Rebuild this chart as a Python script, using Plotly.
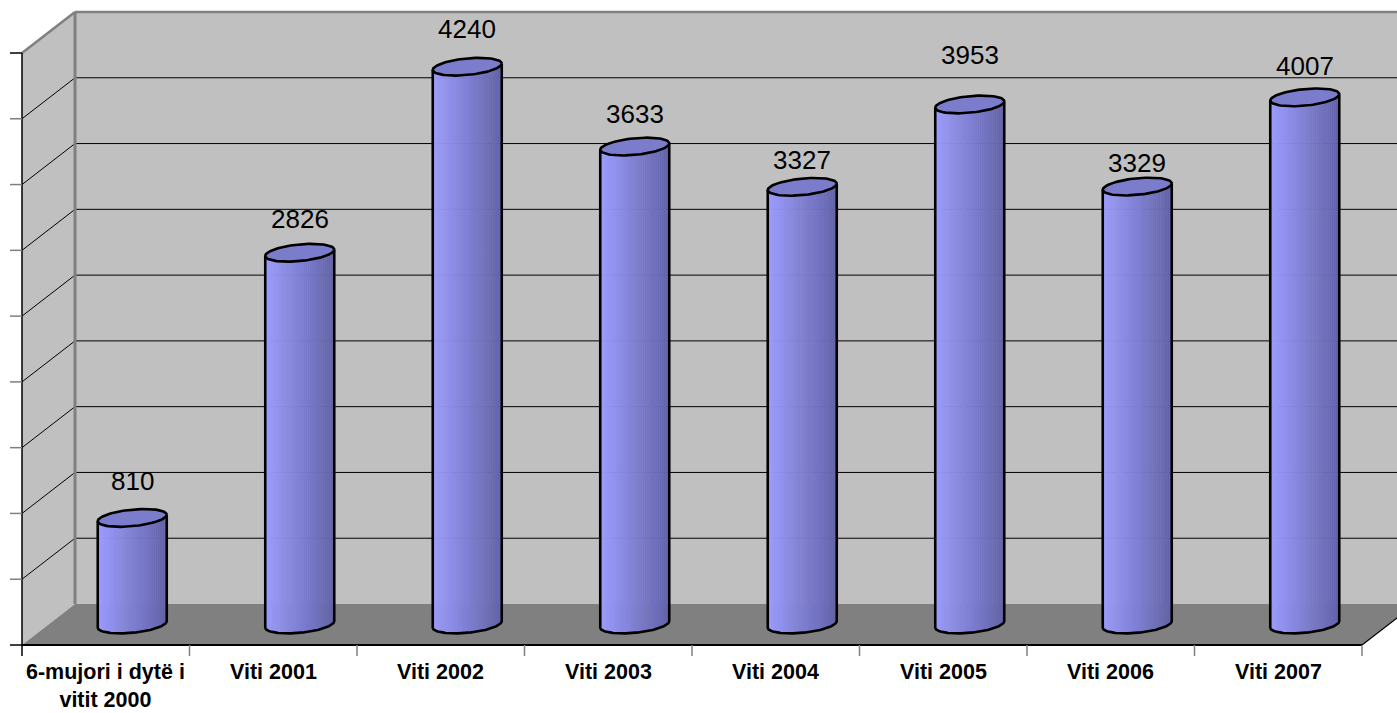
import numpy as np
import plotly.graph_objects as go

# ---- data -------------------------------------------------------------
categories = ["6-mujori i dytë i<br>vitit 2000", "Viti 2001", "Viti 2002", "Viti 2003",
              "Viti 2004", "Viti 2005", "Viti 2006", "Viti 2007"]
values = [810, 2826, 4240, 3633, 3327, 3953, 3329, 4007]
axis_max = 4500
axis_step = 500

# ---- styling / geometry (pixels) ---------------------------------------
label_lift = [37, 34, 38, 33, 27, 49, 24, 31]   # value label height above cylinder top
W, H = 1397, 713
PX_PER_CAT = 167.5
PX_PER_UNIT = 592 / axis_max
X0_PX = 132.25      # axis of first cylinder (mid-depth plane)
Y0_PX = 624.5       # value 0 on the mid-depth plane

WALL = "#C0C0C0"
FLOOR = "#808080"
EDGE = "#808080"
TOP_FILL = "#7C7CCC"
BODY_LEFT = np.array([156, 156, 255])
BODY_RIGHT = np.array([98, 98, 168])
FONT = "Arial, 'Liberation Sans', sans-serif"


def dx(p):
    return p / PX_PER_CAT


def dy(p):
    return p / PX_PER_UNIT


x_range = [-X0_PX / PX_PER_CAT, (W - X0_PX) / PX_PER_CAT]
y_range = [-(H - Y0_PX) / PX_PER_UNIT, Y0_PX / PX_PER_UNIT]

DX, DY = dx(26.5), dy(20.5)          # half depth of the plot box
A, B, T = dx(34.5), dy(8.3), dy(3.2)  # cylinder half width, ellipse half height, tilt
n = len(values)

x_front_left = -0.5 - DX
x_back_left = -0.5 + DX
x_front_right = n - 0.5 - DX
x_back_right = n - 0.5 + DX
ticks = list(range(0, axis_max + 1, axis_step))

shapes = []


def poly(pts, fill, line_color=None, width=0):
    path = "M " + " L ".join(f"{x},{y}" for x, y in pts) + " Z"
    shapes.append(dict(type="path", path=path, xref="x", yref="y", layer="below",
                       fillcolor=fill, line=dict(color=line_color or fill, width=width)))


def seg(x0, y0, x1, y1, color="black", width=1):
    shapes.append(dict(type="line", x0=x0, y0=y0, x1=x1, y1=y1, xref="x", yref="y",
                       layer="below", line=dict(color=color, width=width)))


# back wall, left wall, floor
poly([(x_back_left, DY), (x_back_right + 1, DY), (x_back_right + 1, axis_max + DY),
      (x_back_left, axis_max + DY)], WALL)
poly([(x_front_left, -DY), (x_front_left, axis_max - DY), (x_back_left, axis_max + DY),
      (x_back_left, DY)], WALL)
poly([(x_front_left, -DY), (x_front_right, -DY), (x_back_right, DY), (x_back_left, DY)], FLOOR)

# gridlines on both walls
for v in ticks[1:-1]:
    seg(x_back_left, v + DY, x_back_right + 1, v + DY, "black", 1)
    seg(x_front_left, v - DY, x_back_left, v + DY, "black", 1)

# wall edges
seg(x_back_left, DY, x_back_left, axis_max + DY, EDGE, 3)
seg(x_back_left, axis_max + DY, x_back_right + 1, axis_max + DY, EDGE, 2.5)
seg(x_front_left, axis_max - DY, x_back_left, axis_max + DY, EDGE, 2.5)

# floor front edges
seg(x_front_left, -DY, x_front_right, -DY, "black", 2)
seg(x_front_right, -DY, x_back_right, DY, "black", 1.2)

# value axis with ticks
seg(x_front_left, -DY - dy(11), x_front_left, axis_max - DY, "black", 1.5)
for v in ticks:
    seg(x_front_left - dx(12), v - DY, x_front_left, v - DY,
        "black" if v in (0, axis_max) else EDGE, 1.5)

# category ticks
for k in range(1, n + 1):
    seg(x_front_left + k, -DY, x_front_left + k, -DY - dy(11), EDGE, 1.5)

# ---- cylinders ----------------------------------------------------------
fig = go.Figure()


def front_curve(u):
    return -B * np.sqrt(np.clip(1 - u ** 2, 0, None)) + T * u


N_STRIPS = 36
edges = np.linspace(-1, 1, N_STRIPS + 1)
for j in range(N_STRIPS):
    us = np.linspace(edges[j], edges[j + 1], 5)
    f = (j + 0.5) / N_STRIPS
    c = BODY_LEFT + (BODY_RIGHT - BODY_LEFT) * f
    color = f"rgb({c[0]:.0f},{c[1]:.0f},{c[2]:.0f})"
    xs, ys = [], []
    for i, v in enumerate(values):
        xs += list(i + A * us) + list(i + A * us[::-1]) + [None]
        ys += list(front_curve(us)) + list(v + T * us[::-1]) + [None]
    fig.add_trace(go.Scatter(x=xs, y=ys, mode="lines", fill="toself", fillcolor=color,
                             line=dict(color=color, width=0.8), hoverinfo="skip"))

# outlines of the cylinder bodies
u_arc = np.linspace(-1, 1, 80)
xs, ys = [], []
for i, v in enumerate(values):
    xs += [i - A] + list(i + A * u_arc) + [i + A, None]
    ys += [v - T] + list(front_curve(u_arc)) + [v + T, None]
fig.add_trace(go.Scatter(x=xs, y=ys, mode="lines", line=dict(color="black", width=2.6),
                         hoverinfo="skip"))

# top caps
t = np.linspace(0, 2 * np.pi, 100)
xs, ys = [], []
for i, v in enumerate(values):
    xs += list(i + A * np.cos(t)) + [None]
    ys += list(v - B * np.sin(t) + T * np.cos(t)) + [None]
fig.add_trace(go.Scatter(x=xs, y=ys, mode="lines", fill="toself", fillcolor=TOP_FILL,
                         line=dict(color="black", width=2.6), hoverinfo="skip"))

# ---- labels -------------------------------------------------------------
annotations = []
for i, (v, lift) in enumerate(zip(values, label_lift)):
    annotations.append(dict(x=i, y=v, xref="x", yref="y", text=str(v), showarrow=False,
                            yanchor="middle", xanchor="center", yshift=lift,
                            font=dict(family=FONT, size=26, color="black")))
for i, name in enumerate(categories):
    annotations.append(dict(x=i - DX, y=-DY - dy(13), xref="x", yref="y", text=name,
                            showarrow=False, yanchor="top", xanchor="center",
                            font=dict(family=FONT, size=21.5, color="black", weight="bold")))

fig.update_layout(
    width=W, height=H, margin=dict(l=0, r=0, t=0, b=0, pad=0),
    paper_bgcolor="white", plot_bgcolor="white", showlegend=False, hovermode=False,
    xaxis=dict(range=x_range, visible=False, fixedrange=True),
    yaxis=dict(range=y_range, visible=False, fixedrange=True),
    shapes=shapes, annotations=annotations,
)

fig.write_html("out.html")
